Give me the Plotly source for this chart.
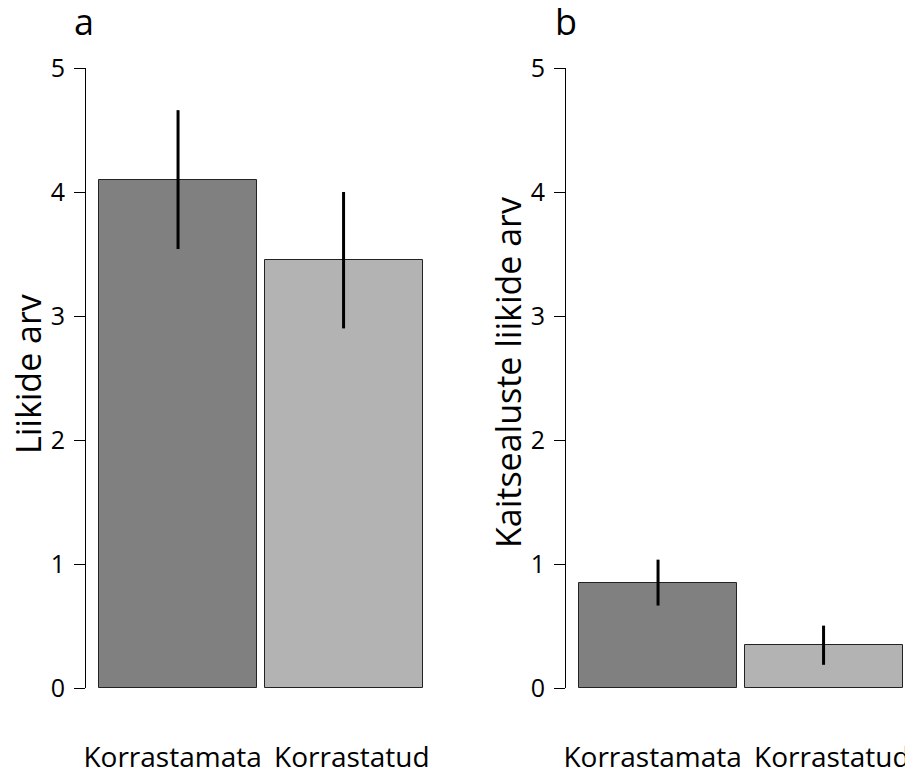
import plotly.graph_objects as go

categories = ["Korrastamata", "Korrastatud"]
species_mean = [4.10, 3.45]
species_se = [0.56, 0.55]
protected_mean = [0.85, 0.345]
protected_se = [0.185, 0.158]
bar_colors = ["#808080", "#b3b3b3"]
yticks = [0, 1, 2, 3, 4, 5]
label_pos = [-0.033, 1.05]

OFF = 8  # page body margin
W, H = 913 - OFF, 776 - OFF
FONT = "Open Sans"

def px(x):
    return (x - OFF) / W

def py(y):
    return 1 - (y - OFF) / H

fig = go.Figure()
positions = [0, 1]
for i, (means, ses) in enumerate([(species_mean, species_se), (protected_mean, protected_se)]):
    ax = "" if i == 0 else "2"
    fig.add_trace(go.Bar(
        x=positions, y=means, width=0.955,
        marker=dict(color=bar_colors, line=dict(color="#222222", width=1)),
        error_y=dict(type="data", array=ses, visible=True, color="black", thickness=3, width=0),
        xaxis="x" + ax, yaxis="y" + ax, showlegend=False,
    ))

yax = dict(range=[0, 5], tickvals=yticks, ticks="outside", ticklen=11, tickcolor="black",
           showline=True, linecolor="black", linewidth=1, showgrid=False, zeroline=False,
           tickfont=dict(family=FONT, size=25, color="black"), ticklabelstandoff=4,
           automargin=False)
xax = dict(range=[-0.556, 1.504], tickvals=label_pos, ticktext=categories, showline=False,
           showgrid=False, zeroline=False, ticks="", tickangle=0, automargin=False,
           tickfont=dict(family=FONT, size=28, color="black"), ticklabelstandoff=50)

fig.update_layout(
    width=W, height=H, margin=dict(l=0, r=0, t=0, b=0, autoexpand=False),
    paper_bgcolor="white", plot_bgcolor="white", bargap=0,
    xaxis=dict(domain=[px(86), px(427)], anchor="y", **xax),
    yaxis=dict(domain=[py(688), py(68)], anchor="x", **yax),
    xaxis2=dict(domain=[px(566), px(907)], anchor="y2", **xax),
    yaxis2=dict(domain=[py(688), py(68)], anchor="x2", **yax),
)

annos = [
    dict(text="Liikide arv", x=px(28), y=py(374), textangle=-90, size=34),
    dict(text="Kaitsealuste liikide arv", x=px(508), y=py(373), textangle=-90, size=34),
    dict(text="a", x=px(84), y=py(22), textangle=0, size=36),
    dict(text="b", x=px(566), y=py(22), textangle=0, size=36),
]
for a in annos:
    fig.add_annotation(text=a["text"], x=a["x"], y=a["y"], xref="paper", yref="paper",
                       textangle=a["textangle"], showarrow=False, xanchor="center", yanchor="middle",
                       font=dict(family=FONT, size=a["size"], color="black"))

fig.write_html("out.html")
